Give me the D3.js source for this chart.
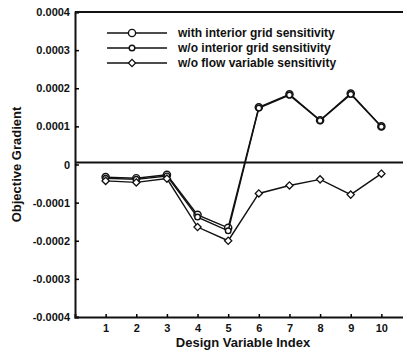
<!DOCTYPE html>
<html>
<head>
<meta charset="utf-8">
<script src="https://cdn.jsdelivr.net/npm/d3@7"></script>
<style>
  body { margin: 0; background: #fff; }
  text { font-family: "Liberation Sans", Arial, sans-serif; font-weight: bold; fill: #111; }
</style>
</head>
<body>
<div id="chart"></div>
<script>
const indices = [1, 2, 3, 4, 5, 6, 7, 8, 9, 10];
const withGrid = [-0.000033, -0.000036, -0.000027, -0.000132, -0.000166, 0.000150, 0.000184, 0.000116, 0.000186, 0.000100];
const noGrid = [-0.000036, -0.000039, -0.000030, -0.000138, -0.000174, 0.000148, 0.000182, 0.000115, 0.000184, 0.000099];
const noFlow = [-0.000043, -0.000047, -0.000037, -0.000164, -0.000200, -0.000076, -0.000055, -0.000039, -0.000079, -0.000024];
const seriesNames = ['with interior grid sensitivity', 'w/o interior grid sensitivity', 'w/o flow variable sensitivity'];
const yTicks = [-0.0004, -0.0003, -0.0002, -0.0001, 0, 0.0001, 0.0002, 0.0003, 0.0004];

const width = 403, height = 352;
const plotLeft = 75, plotRight = 412, plotTop = 12, plotBottom = 317;

const svg = d3.select('#chart').append('svg')
    .attr('width', width)
    .attr('height', height);

const x = d3.scaleLinear().domain([0, 11]).range([plotLeft, plotRight]);
const y = d3.scaleLinear().domain([-0.0004, 0.0004]).range([plotBottom, plotTop]);

// axes
const yAxis = svg.append('g')
    .attr('transform', `translate(${plotLeft},0)`)
    .call(d3.axisLeft(y).tickValues(yTicks).tickSize(-4)
        .tickFormat(d => d === 0 ? '0' : d3.format('.4f')(d).replace('−', '-')));
yAxis.select('.domain').attr('stroke-width', 2).attr('stroke', '#111');
yAxis.selectAll('.tick line').attr('stroke-width', 1.5);
yAxis.selectAll('.tick text').attr('font-size', 11).attr('x', -5);

const xAxis = svg.append('g')
    .attr('transform', `translate(0,${plotBottom})`)
    .call(d3.axisBottom(x).tickValues(indices).tickSize(-3).tickFormat(d3.format('d')));
xAxis.select('.domain').attr('stroke-width', 2).attr('stroke', '#111');
xAxis.selectAll('.tick line').attr('stroke-width', 1.5);
xAxis.selectAll('.tick text').attr('font-size', 11).attr('y', 7);

// top frame
svg.append('line')
    .attr('x1', plotLeft).attr('x2', width)
    .attr('y1', plotTop).attr('y2', plotTop)
    .attr('stroke', '#111').attr('stroke-width', 2);

// zero line
svg.append('line')
    .attr('x1', plotLeft).attr('x2', width)
    .attr('y1', y(0) - 2).attr('y2', y(0) - 2)
    .attr('stroke', '#111').attr('stroke-width', 1.8);

// axis titles
svg.append('text')
    .attr('transform', `translate(21,${(plotTop + plotBottom) / 2}) rotate(-90)`)
    .attr('text-anchor', 'middle')
    .attr('font-size', 13)
    .text('Objective Gradient');

svg.append('text')
    .attr('x', 243).attr('y', 347)
    .attr('text-anchor', 'middle')
    .attr('font-size', 13)
    .text('Design Variable Index');

// series
const line = d3.line().x((d, i) => x(indices[i])).y(d => y(d));
const allSeries = [withGrid, noGrid, noFlow];
const markers = ['circle', 'small', 'diamond'];

function drawMarker(g, type, cx, cy) {
    if (type === 'circle') {
        g.append('circle').attr('cx', cx).attr('cy', cy).attr('r', 3.6)
            .attr('fill', '#fff').attr('stroke', '#111').attr('stroke-width', 1.4);
    } else if (type === 'small') {
        g.append('circle').attr('cx', cx).attr('cy', cy).attr('r', 2.8)
            .attr('fill', '#fff').attr('stroke', '#111').attr('stroke-width', 1.4);
    } else {
        const s = 3.6;
        g.append('path')
            .attr('d', `M${cx},${cy - s}L${cx + s},${cy}L${cx},${cy + s}L${cx - s},${cy}Z`)
            .attr('fill', '#fff').attr('stroke', '#111').attr('stroke-width', 1.3);
    }
}

allSeries.forEach((vals, k) => {
    const g = svg.append('g');
    g.append('path')
        .datum(vals)
        .attr('d', line)
        .attr('fill', 'none')
        .attr('stroke', '#111')
        .attr('stroke-width', 1.4);
    vals.forEach((v, i) => drawMarker(g, markers[k], x(indices[i]), y(v)));
});

// legend
const legendY = [33, 48, 63];
seriesNames.forEach((name, k) => {
    const g = svg.append('g');
    g.append('line')
        .attr('x1', 107).attr('x2', 167)
        .attr('y1', legendY[k]).attr('y2', legendY[k])
        .attr('stroke', '#111').attr('stroke-width', 1.4);
    drawMarker(g, markers[k], 132, legendY[k]);
    g.append('text')
        .attr('x', 178).attr('y', legendY[k] + 4)
        .attr('font-size', 12)
        .text(name);
});
</script>
</body>
</html>
